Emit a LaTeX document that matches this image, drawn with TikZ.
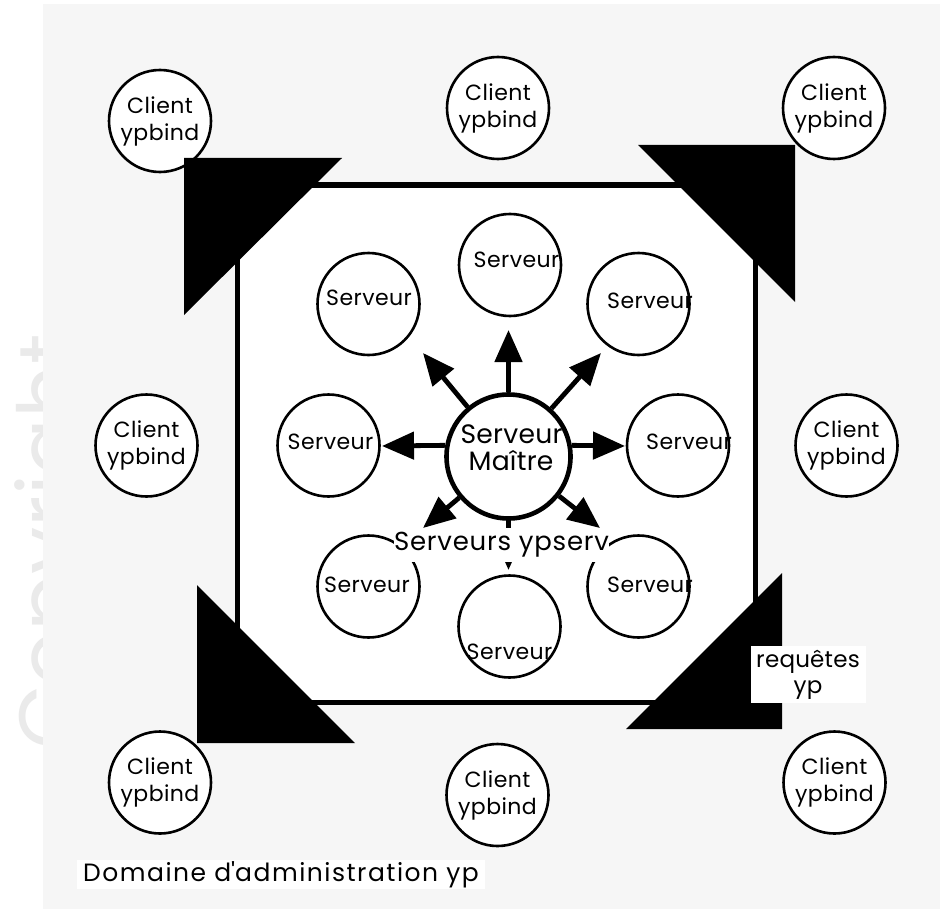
\documentclass[tikz,border=0pt]{standalone}
\usepackage{fontspec}
\setmainfont{Poppins}
\usetikzlibrary{arrows.meta}

\definecolor{paper}{HTML}{F6F6F6}
\definecolor{wmark}{HTML}{EAEAEA}

% font size plus tracking in one go
\newcommand{\tracked}[3]{\fontsize{#1}{#2}\selectfont\addfontfeatures{LetterSpace=#3}}

\tikzset{
  client/.style={circle, draw, line width=1.3pt, fill=white, minimum size=51pt,
    inner sep=0pt, align=center, font=\tracked{11}{13.5}{2}},
  srv/.style={circle, draw, line width=1.3pt, fill=white, minimum size=51pt, inner sep=0pt},
  srvtxt/.style={anchor=base, inner sep=0pt, font=\tracked{11}{13.5}{2}},
  master/.style={circle, draw, line width=2.3pt, fill=white, minimum size=62pt, inner sep=0pt},
  mtxt/.style={anchor=base, inner sep=0pt, font=\tracked{13.3}{15}{1}},
  push/.style={line width=2.4pt, -{Triangle[length=16pt,width=13.5pt]}},
  corner/.style={fill=black},
  tag/.style={fill=white, inner sep=0pt, align=center},
}

\begin{document}
\begin{tikzpicture}[x=0.5pt,y=-0.5pt]
\useasboundingbox (0,0) rectangle (940,909);
\fill[white] (0,0) rectangle (940,909);

% faint watermark along the left margin, partly under the grey sheet
\node[rotate=90, anchor=north, inner sep=0pt, text=wmark,
      font=\fontsize{42}{42}\selectfont] (wm) at (14,542) {Copyright};

% grey sheet
\fill[paper] (43,4) rectangle (940,909);

% the administration domain
\node[draw, line width=2.7pt, fill=white, minimum width=259pt,
      minimum height=258.75pt, inner sep=0pt] (dom) at (496.5,443.75) {};

% clients around the domain
\node[client] (c1) at (160,121)   {Client\\ypbind};
\node[client] (c2) at (498,108)   {Client\\ypbind};
\node[client] (c3) at (834,108)   {Client\\ypbind};
\node[client] (c4) at (146.5,445.5) {Client\\ypbind};
\node[client] (c5) at (846.5,445.5) {Client\\ypbind};
\node[client] (c6) at (160,782.5) {Client\\ypbind};
\node[client] (c7) at (497.5,795) {Client\\ypbind};
\node[client] (c8) at (834.5,782.5) {Client\\ypbind};

% black corner wedges
\fill[corner] (184,158) -- (342,158) -- (184,315) -- cycle;
\fill[corner] (638,145) -- (795,145) -- (795,302) -- cycle;
\fill[corner] (197,585) -- (197,743) -- (355,743) -- cycle;
\fill[corner] (782,573) -- (782,729) -- (626,729) -- cycle;

% slave servers
\node[srv] (s1) at (368.5,304) {};
\node[srv] (s2) at (510,265) {};
\node[srv] (s3) at (638.5,304) {};
\node[srv] (s4) at (328.5,445.5) {};
\node[srv] (s5) at (678,445.5) {};
\node[srv] (s6) at (368.5,586.5) {};
\node[srv] (s7) at (509.5,626.5) {};
\node[srv] (s8) at (638.5,586.5) {};
\node[srvtxt] (s1t) at (369,305)   {Serveur};
\node[srvtxt] (s2t) at (516.5,267) {Serveur};
\node[srvtxt] (s3t) at (650,308)   {Serveur};
\node[srvtxt] (s4t) at (330.5,449) {Serveur};
\node[srvtxt] (s5t) at (689,449)   {Serveur};
\node[srvtxt] (s6t) at (367,592)   {Serveur};
\node[srvtxt] (s7t) at (509.5,659) {Serveur};
\node[srvtxt] (s8t) at (650,592)   {Serveur};

% master server
\node[master] (m) at (508.5,456.5) {};
\node[mtxt] (mt1) at (511.5,443) {Serveur};
\node[mtxt] (mt2) at (511,470)   {Maître};

% propagation arrows
\coordinate (tU)  at (508.5,330);
\coordinate (tD)  at (508.5,570);
\coordinate (tL)  at (382,446);
\coordinate (tR)  at (625,446);
\coordinate (tUL) at (423,353);
\coordinate (tUR) at (601,353);
\coordinate (tDL) at (423,528);
\coordinate (tDR) at (600,528);
\draw[push] (m) -- (tU);
\draw[push] (m) -- (tD);
\draw[push] (m.170) -- (tL);
\draw[push] (m.10) -- (tR);
\draw[push] (m) -- (tUL);
\draw[push] (m) -- (tUR);
\draw[push] (m) -- (tDL);
\draw[push] (m) -- (tDR);

% captions
\node[tag, minimum width=106pt, minimum height=17pt,
      font=\tracked{13}{15}{3}] (ypserv) at (501.5,545) {Serveurs ypserv};
\node[tag, minimum width=57.5pt, minimum height=28.5pt,
      font=\tracked{11.5}{13}{1}] (req) at (808,674.5) {requêtes\\yp};
\node[tag, minimum width=204pt, minimum height=14.5pt,
      font=\tracked{12.5}{14}{6}] (domain) at (281,874.5)
      {Domaine d\textquotesingle administration yp};
\end{tikzpicture}
\end{document}
